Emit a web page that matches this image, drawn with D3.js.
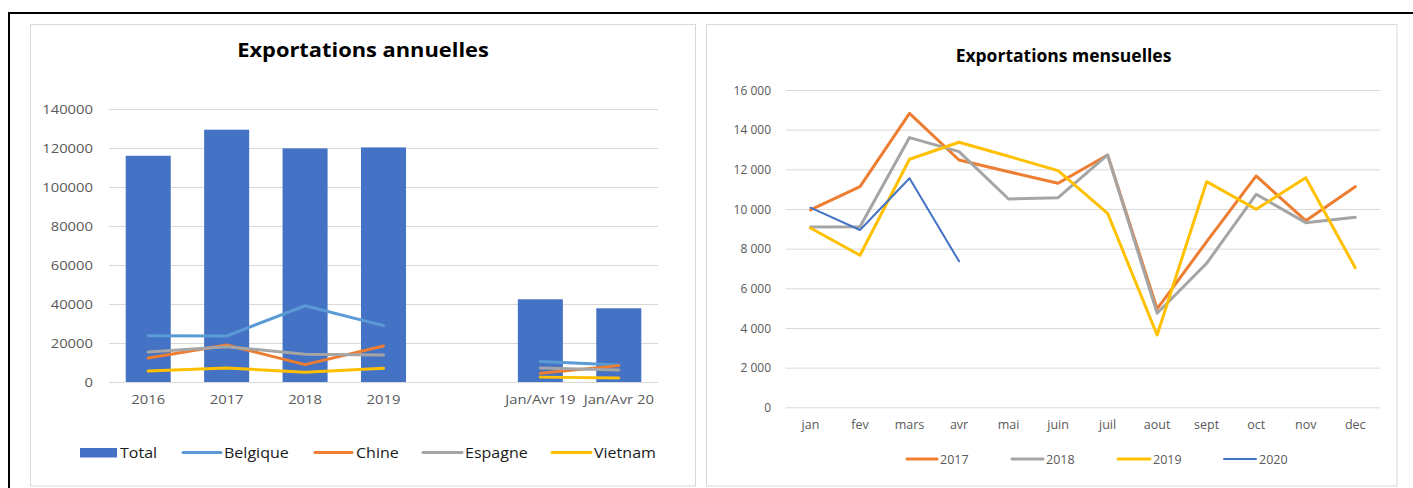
<!DOCTYPE html>
<html>
<head>
<meta charset="utf-8">
<script src="https://cdn.jsdelivr.net/npm/d3@7"></script>
<style>
  html, body { margin: 0; padding: 0; background: #ffffff; }
  svg { display: block; font-family: "Open Sans", "Liberation Sans", sans-serif; }
</style>
</head>
<body>
<svg id="chart" width="1413" height="488"></svg>
<script>
// ---------------- DATA ----------------
// Left chart: annual exports
const annualCategories = ["2016", "2017", "2018", "2019", "", "Jan/Avr 19", "Jan/Avr 20"];
const annualTotal    = [116000, 129400, 119800, 120300, null, 42400, 37800];
const annualBelgique = [23700, 23600, 39100, 28900, null, 10500, 8700];
const annualChine    = [12300, 19000, 8900, 18500, null, 4500, 8400];
const annualEspagne  = [15400, 18100, 14200, 13800, null, 7200, 6200];
const annualVietnam  = [5600, 7200, 5000, 7000, null, 2500, 2100];
const annualTicks = [0, 20000, 40000, 60000, 80000, 100000, 120000, 140000];
const annualTitle = "Exportations annuelles";

// Right chart: monthly exports
const months = ["jan", "fev", "mars", "avr", "mai", "juin", "juil", "aout", "sept", "oct", "nov", "dec"];
const monthly2017 = [9950, 11125, 14825, 12470, 11880, 11296, 12723, 4958, 8352, 11665, 9410, 11125];
const monthly2018 = [9092, 9100, 13600, 12890, 10504, 10570, 12723, 4740, 7262, 10742, 9310, 9582];
const monthly2019 = [9042, 7670, 12506, 13364, 12658, 11932, 9783, 3646, 11377, 9984, 11580, 7040];
const monthly2020 = [10066, 8941, 11548, 7362];
const monthlyTicks = [0, 2000, 4000, 6000, 8000, 10000, 12000, 14000, 16000];
const monthlyTitle = "Exportations mensuelles";

// ---------------- RENDER ----------------
const svg = d3.select("#chart");
const GRID = "#D9D9D9";
const AXIS_TXT = "#595959";

// outer black frame (top + left)
svg.append("line").attr("x1", 8).attr("x2", 1413).attr("y1", 13).attr("y2", 13)
  .attr("stroke", "#000").attr("stroke-width", 2);
svg.append("line").attr("x1", 9).attr("x2", 9).attr("y1", 12).attr("y2", 488)
  .attr("stroke", "#000").attr("stroke-width", 2);

// chart frames
svg.append("rect").attr("x", 30.5).attr("y", 24.5).attr("width", 665).attr("height", 461.5)
  .attr("fill", "#fff").attr("stroke", GRID).attr("stroke-width", 1);
svg.append("rect").attr("x", 706.5).attr("y", 24.5).attr("width", 690.5).attr("height", 461.5)
  .attr("fill", "#fff").attr("stroke", GRID).attr("stroke-width", 1);

function stretchedText(g, x, y, str, size, sx, opts = {}) {
  return g.append("text")
    .attr("transform", `translate(${x},${y}) scale(${sx},1)`)
    .attr("font-size", size)
    .attr("text-anchor", opts.anchor || "start")
    .attr("font-weight", opts.weight || "normal")
    .attr("fill", opts.fill || "#000")
    .text(str);
}

// ===== LEFT CHART =====
(function () {
  const g = svg.append("g");
  const SX = 1.14;
  const x = d3.scaleBand().domain(annualCategories.map((d, i) => i))
    .range([109, 658]).paddingInner(0.426).paddingOuter(0.213);
  const y = d3.scaleLinear().domain([0, 140000]).range([382, 109]);

  // grid + y labels
  const yAxis = g.append("g").attr("transform", "translate(109,0)")
    .call(d3.axisLeft(y).tickValues(annualTicks).tickSize(-(658 - 109)).tickPadding(16).tickFormat(d3.format("d")));
  yAxis.select(".domain").remove();
  yAxis.selectAll(".tick line").attr("stroke", GRID).attr("stroke-width", 1);
  yAxis.selectAll(".tick text")
    .attr("x", -16 / SX).attr("transform", `scale(${SX},1)`)
    .attr("font-size", 13).attr("font-family", "Open Sans").attr("fill", AXIS_TXT);

  // bars
  g.append("g").selectAll("rect")
    .data(annualTotal.map((v, i) => ({ v, i })).filter(d => d.v != null))
    .join("rect")
    .attr("x", d => x(d.i)).attr("width", x.bandwidth())
    .attr("y", d => y(d.v)).attr("height", d => y(0) - y(d.v))
    .attr("fill", "#4472C4");

  // lines
  const series = [
    { name: "Belgique", data: annualBelgique, color: "#5B9BD5" },
    { name: "Chine", data: annualChine, color: "#ED7D31" },
    { name: "Espagne", data: annualEspagne, color: "#A5A5A5" },
    { name: "Vietnam", data: annualVietnam, color: "#FFC000" }
  ];
  const line = d3.line()
    .defined(d => d.v != null)
    .x(d => x(d.i) + x.bandwidth() / 2)
    .y(d => y(d.v));
  series.forEach(s => {
    g.append("path")
      .attr("d", line(s.data.map((v, i) => ({ v, i }))))
      .attr("fill", "none").attr("stroke", s.color).attr("stroke-width", 3)
      .attr("stroke-linejoin", "round").attr("stroke-linecap", "round");
  });

  // x labels
  annualCategories.forEach((c, i) => {
    if (!c) return;
    stretchedText(g, x(i) + x.bandwidth() / 2, 404, c, 13, SX, { anchor: "middle", fill: AXIS_TXT });
  });

  // title
  stretchedText(g, 363, 57, annualTitle, 19, 1.15, { anchor: "middle", weight: "bold" });

  // legend
  const LY = 452.5;
  g.append("rect").attr("x", 80).attr("y", 448).attr("width", 37).attr("height", 9.5).attr("fill", "#4472C4");
  stretchedText(g, 120, 457.5, "Total", 15, 1.07, { fill: "#1a1a1a" });
  const legPos = [[183, 221, 224], [315, 352, 356], [423, 462, 465], [552, 591, 594]];
  series.forEach((s, k) => {
    const p = legPos[k];
    g.append("line").attr("x1", p[0]).attr("x2", p[1]).attr("y1", LY).attr("y2", LY)
      .attr("stroke", s.color).attr("stroke-width", 3).attr("stroke-linecap", "round");
    stretchedText(g, p[2], 457.5, s.name, 15, 1.07, { fill: "#1a1a1a" });
  });
})();

// ===== RIGHT CHART =====
(function () {
  const g = svg.append("g");
  const x = d3.scalePoint().domain(months).range([785.7, 1380]).padding(0.5);
  const y = d3.scaleLinear().domain([0, 16000]).range([407.3, 90]);
  const fr = d3.formatLocale({ decimal: ",", thousands: " ", grouping: [3], currency: ["", ""] });
  const fmt = fr.format(",");

  const yAxis = g.append("g").attr("transform", "translate(785.7,0)")
    .call(d3.axisLeft(y).tickValues(monthlyTicks).tickSize(-(1380 - 785.7)).tickPadding(14.7).tickFormat(fmt));
  yAxis.select(".domain").remove();
  yAxis.selectAll(".tick line").attr("stroke", GRID).attr("stroke-width", 1);
  yAxis.selectAll(".tick text").attr("dy", "0.36em")
    .attr("font-size", 12).attr("font-family", "Open Sans").attr("fill", AXIS_TXT);

  const series = [
    { name: "2017", data: monthly2017, color: "#ED7D31", w: 3 },
    { name: "2018", data: monthly2018, color: "#A5A5A5", w: 3 },
    { name: "2019", data: monthly2019, color: "#FFC000", w: 3 },
    { name: "2020", data: monthly2020, color: "#4472C4", w: 2 }
  ];
  const line = d3.line().x(d => x(d.m)).y(d => y(d.v));
  series.forEach(s => {
    g.append("path")
      .attr("d", line(s.data.map((v, i) => ({ v, m: months[i] }))))
      .attr("fill", "none").attr("stroke", s.color).attr("stroke-width", s.w)
      .attr("stroke-linejoin", "round").attr("stroke-linecap", "round");
  });

  months.forEach(m => {
    stretchedText(g, x(m), 428.5, m, 12.5, 1, { anchor: "middle", fill: AXIS_TXT });
  });

  stretchedText(g, 1063.5, 61.5, monthlyTitle, 17.5, 1, { anchor: "middle", weight: "bold" });

  const LY = 459;
  const legPos = [[907, 937, 940], [1012, 1043, 1046], [1118, 1150, 1153], [1224, 1256, 1259]];
  series.forEach((s, k) => {
    const p = legPos[k];
    g.append("line").attr("x1", p[0]).attr("x2", p[1]).attr("y1", LY).attr("y2", LY)
      .attr("stroke", s.color).attr("stroke-width", s.w).attr("stroke-linecap", "round");
    stretchedText(g, p[2], 463.5, s.name, 12.5, 1, { fill: AXIS_TXT });
  });
})();
</script>
</body>
</html>
